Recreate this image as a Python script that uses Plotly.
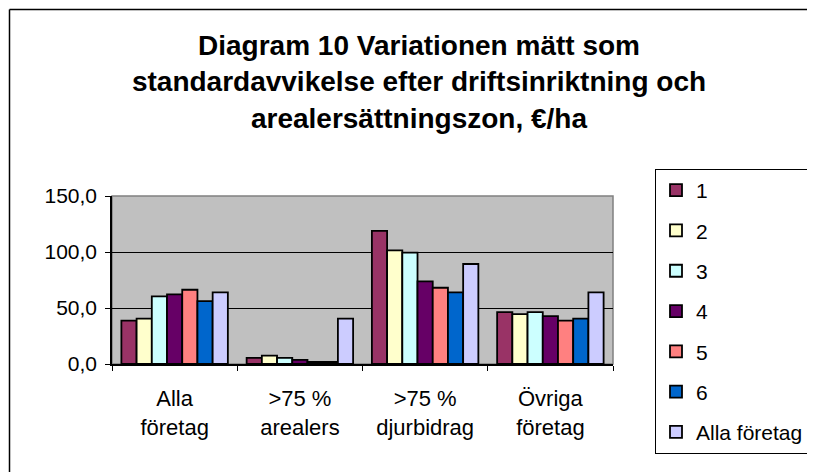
import plotly.graph_objects as go

categories = ["Alla<br>företag", ">75 %<br>arealers", ">75 %<br>djurbidrag", "Övriga<br>företag"]
series_names = ["1", "2", "3", "4", "5", "6", "Alla företag"]
s1 = [38.8, 5.4, 118.8, 46.3]
s2 = [40.6, 7.5, 101.5, 44.5]
s3 = [60.3, 5.4, 99.4, 46.3]
s4 = [62.1, 3.6, 73.7, 42.7]
s5 = [66.3, 1.8, 68.1, 38.8]
s6 = [56.1, 1.8, 63.9, 40.6]
s_alla = [63.9, 40.6, 89.3, 63.9]
colors = ["#993366", "#FFFFCC", "#CCFFFF", "#660066", "#FF8080", "#0066CC", "#CCCCFF"]
y_ticks = [0, 50, 100, 150]
title_text = ("Diagram 10 Variationen mätt som<br>standardavvikelse efter driftsinriktning och"
              "<br>arealersättningszon, €/ha")

FONT = "Liberation Sans, Arial, sans-serif"
# page body has an 8px margin; figure sized so it ends at the window edge
W, H = 807, 464
L, R, T, B = 104, 202, 188, 108
pw, ph = W - L - R, H - T - B
OFF = 8  # screen offset of the figure

def px_x(x):  # screen x -> paper
    return (x - OFF - L) / pw

def px_y(y):  # screen y -> paper
    return (H - B - (y - OFF)) / ph

fig = go.Figure()
for i, (name, vals) in enumerate(zip(series_names, [s1, s2, s3, s4, s5, s6, s_alla])):
    fig.add_trace(go.Bar(
        x=categories, y=vals, name=name, legendgroup=f"g{i}",
        marker=dict(color=colors[i], line=dict(color="black", width=1.8)),
        hoverinfo="x+y+name",
    ))

fig.update_layout(
    width=W, height=H,
    margin=dict(l=L, r=R, t=T, b=B, autoexpand=False),
    paper_bgcolor="white", plot_bgcolor="#C0C0C0",
    barmode="group", bargap=0.15, bargroupgap=0,
    separators=", ",
    font=dict(family=FONT, size=21, color="black"),
    title=dict(text=title_text, x=(419 - OFF) / W, xanchor="center", y=1 - 47 / H, yanchor="middle",
               font=dict(family=FONT, size=28, color="black", weight="bold")),
    showlegend=True,
    legend=dict(x=px_x(655), y=px_y(169), xanchor="left", yanchor="top",
                bgcolor="white", bordercolor="black", borderwidth=1,
                font=dict(family=FONT, size=21, color="black"),
                tracegroupgap=10, traceorder="grouped", maxheight=330),
    xaxis=dict(type="category", showline=True, linecolor="black", linewidth=1.5,
               ticks="outside", tickson="boundaries", ticklen=5, tickcolor="black",
               tickfont=dict(family=FONT, size=22, color="black"),
               showgrid=False, ticklabelstandoff=14),
    yaxis=dict(range=[0, 150], tickvals=y_ticks, tickformat=".1f",
               showline=True, linecolor="black", linewidth=1.5,
               ticks="outside", ticklen=5, tickcolor="black",
               showgrid=True, gridcolor="black", gridwidth=1, zeroline=False,
               tickfont=dict(family=FONT, size=21, color="black"),
               ticklabelstandoff=4),
    shapes=[
        dict(type="rect", xref="paper", yref="paper", x0=0, x1=1, y0=0, y1=1,
             line=dict(color="#808080", width=1.5), layer="below"),
        dict(type="line", xref="paper", yref="paper",
             x0=px_x(9.5), x1=px_x(9.5), y0=px_y(560), y1=px_y(9.5),
             line=dict(color="black", width=1.5), layer="above"),
        dict(type="line", xref="paper", yref="paper",
             x0=px_x(9.5), x1=px_x(900), y0=px_y(9.5), y1=px_y(9.5),
             line=dict(color="black", width=1.5), layer="above"),
    ],
)

fig.write_html("out.html")
